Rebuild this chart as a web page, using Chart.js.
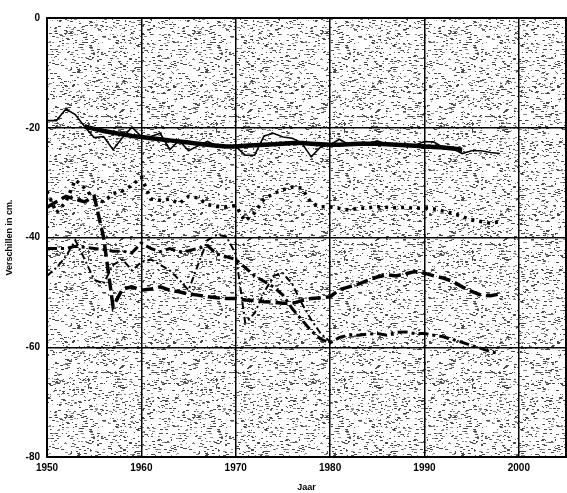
<!DOCTYPE html>
<html>
<head>
<meta charset="utf-8">
<script src="https://cdn.jsdelivr.net/npm/chart.js@4/dist/chart.umd.min.js"></script>
<style>
  html, body { margin: 0; padding: 0; background: #fff; }
  canvas { display: block; }
</style>
</head>
<body>
<canvas id="verschilChart" width="567" height="493"></canvas>
<script>
// jaren en meetreeksen (cm)
const years = [1950, 1951, 1952, 1953, 1954, 1955, 1956, 1957, 1958, 1959,
               1960, 1961, 1962, 1963, 1964, 1965, 1966, 1967, 1968, 1969,
               1970, 1971, 1972, 1973, 1974, 1975, 1976, 1977, 1978, 1979,
               1980, 1981, 1982, 1983, 1984, 1985, 1986, 1987, 1988, 1989,
               1990, 1991, 1992, 1993, 1994, 1995, 1996, 1997, 1998];

const reeksJaarlijks = [-18.7, -18.7, -16.6, -17.6, -19.8, -21.8, -21.6, -24.0, -21.8, -19.9,
                        -21.6, -21.6, -21.0, -24.0, -22.3, -24.2, -23.3, -22.5, -23.3, -23.4,
                        -23.4, -25.0, -25.0, -21.5, -21.0, -21.7, -21.9, -22.8, -25.3, -23.5,
                        -23.1, -22.1, -23.1, -23.0, -22.9, -22.4, -23.0, -23.0, -23.1, -23.2,
                        -22.5, -22.6, -23.6, -23.8, -24.7, -24.2, -24.2, -24.5, -24.7];

const reeksTrend = [null, null, null, null, -19.8, -20.2, -20.6, -20.9, -21.2, -21.5,
                    -21.7, -21.9, -22.1, -22.3, -22.5, -22.7, -22.9, -23.1, -23.3, -23.4,
                    -23.4, -23.3, -23.2, -23.1, -23.0, -22.9, -22.8, -22.8, -22.9, -23.0,
                    -23.1, -23.1, -23.0, -22.9, -22.9, -22.9, -23.0, -23.1, -23.2, -23.3,
                    -23.4, -23.5, -23.6, -23.8, -24.0, null, null, null, null];

const reeksPunt = [-31.5, -35.5, -33.5, -29.5, -31.0, -33.0, -33.5, -32.0, -31.5, -30.5,
                   -29.0, -33.0, -33.2, -33.0, -33.8, -32.5, -32.8, -34.0, -34.3, -34.4,
                   -34.2, -37.0, -35.5, -33.0, -32.0, -31.3, -30.8, -31.0, -33.7, -34.4,
                   -34.4, -34.7, -35.0, -34.7, -34.6, -34.4, -34.5, -34.6, -34.5, -34.7,
                   -34.6, -34.8, -35.2, -35.6, -36.2, -36.8, -37.1, -37.4, -37.1];

const reeksStreepPunt = [-42.0, -42.0, -42.0, -41.6, -41.8, -42.0, -42.2, -42.5, -42.5, -42.8,
                         -41.0, -42.0, -42.6, -42.0, -42.6, -42.4, -42.0, -41.5, -43.0, -43.5,
                         -44.0, -45.5, -47.0, -48.0, -49.0, -50.5, -53.0, -55.0, -57.0, -58.5,
                         -59.2, -58.2, -57.8, -57.8, -57.6, -57.5, -57.8, -57.3, -57.2, -57.5,
                         -57.5, -57.8, -58.1, -58.6, -59.1, -59.7, -60.2, -60.8, -61.2];

const reeksStreep = [-34.5, -33.5, -32.5, -33.0, -33.5, -32.5, -40.0, -52.6, -49.4, -49.0,
                     -49.6, -49.4, -49.0, -49.6, -49.9, -50.3, -50.5, -50.8, -51.0, -51.1,
                     -51.1, -51.4, -51.5, -51.7, -51.8, -52.0, -52.0, -51.5, -51.1, -51.0,
                     -50.8, -49.5, -49.0, -48.5, -47.8, -47.2, -46.8, -47.0, -46.6, -46.2,
                     -46.5, -47.0, -47.4, -48.0, -49.0, -49.8, -50.5, -50.6, -50.3];

const reeksDun = [-47.0, -45.5, -43.5, -40.5, -44.0, -47.7, -48.4, -45.0, -44.0, -46.0,
                  -44.5, -44.0, -45.0, -46.0, -47.7, -49.6, -45.0, -40.5, -39.5, -39.8,
                  -43.0, -55.5, -53.8, -50.0, -47.0, -46.5, -48.5, -52.0, -55.0, -57.5,
                  -59.0, null, null, null, null, null, null, null, null, null,
                  null, null, null, null, null, null, null, null, null];

const xTicks = [1950, 1960, 1970, 1980, 1990, 2000];
const yTicks = [0, -20, -40, -60, -80];

function punten(values) {
    return years.map((x, i) => ({ x: x, y: values[i] })).filter(p => p.y !== null);
}

// korrelige grijze achtergrond van het grafiekvlak
function maakStippel() {
    const c = document.createElement('canvas');
    c.width = 128; c.height = 128;
    const g = c.getContext('2d');
    g.fillStyle = '#ffffff';
    g.fillRect(0, 0, 128, 128);
    let s = 7919;
    const next = () => { s = (Math.imul(s, 1103515245) + 12345) >>> 0; return s >>> 16; };
    for (let i = 0; i < 1350; i++) {
        const x = next() % 128;
        const y = next() % 128;
        const w = 1 + next() % 3;
        g.fillStyle = next() % 3 === 0 ? '#8a8a8a' : '#4a4a4a';
        g.fillRect(x, y, w, 1);
    }
    return c;
}

const stippelCanvas = maakStippel();

const achtergrond = {
    id: 'achtergrond',
    beforeDraw(chart) {
        const ctx = chart.ctx;
        const a = chart.chartArea;
        ctx.save();
        ctx.fillStyle = '#ffffff';
        ctx.fillRect(0, 0, chart.width, chart.height);
        ctx.fillStyle = ctx.createPattern(stippelCanvas, 'repeat');
        ctx.fillRect(a.left, a.top, a.right - a.left, a.bottom - a.top);
        ctx.restore();
    }
};

const kader = {
    id: 'kader',
    beforeDatasetsDraw(chart) {
        const ctx = chart.ctx;
        const a = chart.chartArea;
        ctx.save();
        ctx.strokeStyle = '#000';
        ctx.lineWidth = 2;
        ctx.strokeRect(a.left, a.top, a.right - a.left, a.bottom - a.top);
        ctx.restore();
    }
};

const fontFam = "'Liberation Sans Narrow', 'Liberation Sans', Arial, sans-serif";

const ctx = document.getElementById('verschilChart').getContext('2d');
new Chart(ctx, {
    type: 'line',
    data: {
        datasets: [
            { label: 'jaarlijks', data: punten(reeksJaarlijks), borderColor: '#000', borderWidth: 1.6 },
            { label: 'trend', data: punten(reeksTrend), borderColor: '#000', borderWidth: 4.5 },
            { label: 'punt', data: punten(reeksPunt), borderColor: '#000', borderWidth: 3.5, borderDash: [3, 5] },
            { label: 'streep-punt', data: punten(reeksStreepPunt), borderColor: '#000', borderWidth: 3, borderDash: [10, 4, 3, 4] },
            { label: 'streep', data: punten(reeksStreep), borderColor: '#000', borderWidth: 3.5, borderDash: [12, 5] },
            { label: 'dun', data: punten(reeksDun), borderColor: '#000', borderWidth: 2, borderDash: [7, 3, 2, 3] }
        ]
    },
    options: {
        responsive: false,
        animation: false,
        elements: {
            point: { radius: 0 },
            line: { tension: 0, fill: false }
        },
        layout: { padding: { top: 18, right: 1, left: 0, bottom: 0 } },
        plugins: {
            legend: { display: false },
            tooltip: { enabled: false }
        },
        scales: {
            x: {
                type: 'linear',
                min: 1950,
                max: 2005,
                afterBuildTicks: s => { s.ticks = xTicks.map(v => ({ value: v })); },
                afterFit: s => { s.height = 36; },
                ticks: {
                    color: '#000',
                    padding: 5,
                    maxRotation: 0,
                    font: { family: fontFam, size: 10, weight: 'bold' },
                    callback: v => String(v)
                },
                grid: { color: '#000', lineWidth: 1.5, drawTicks: false },
                border: { display: false },
                title: {
                    display: true,
                    text: 'Jaar',
                    color: '#000',
                    padding: { top: 2, bottom: 0 },
                    font: { family: fontFam, size: 9, weight: 'bold' }
                }
            },
            y: {
                min: -80,
                max: 0,
                afterBuildTicks: s => { s.ticks = yTicks.map(v => ({ value: v })); },
                afterFit: s => { s.width = 47; },
                ticks: {
                    color: '#000',
                    padding: 7,
                    font: { family: fontFam, size: 10, weight: 'bold' },
                    callback: v => String(v)
                },
                grid: { color: '#000', lineWidth: 1.5, drawTicks: false },
                border: { display: false },
                title: {
                    display: true,
                    text: 'Verschillen in cm.',
                    color: '#000',
                    padding: { top: 4, bottom: 2 },
                    font: { family: fontFam, size: 9, weight: 'bold' }
                }
            }
        }
    },
    plugins: [achtergrond, kader]
});
</script>
</body>
</html>
